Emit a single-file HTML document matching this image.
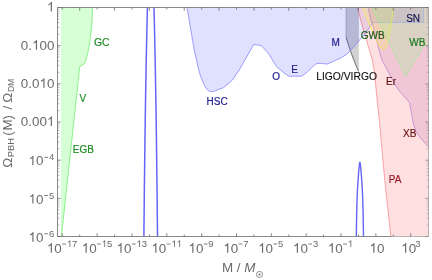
<!DOCTYPE html>
<html><head><meta charset="utf-8"><title>PBH constraints</title>
<style>
html,body{margin:0;padding:0;background:#fff;}
body{width:432px;height:280px;overflow:hidden;font-family:"Liberation Sans",sans-serif;}
svg{display:block;will-change:transform;}
text{font-family:"Liberation Sans",sans-serif;}
.tk{fill:#6a6a6a;font-size:13.4px;}
.tk.sup{font-size:9.5px;}
.lb{font-size:10px;}
</style></head><body>
<svg width="432" height="280" viewBox="0 0 432 280">
<defs><clipPath id="cp"><rect x="57.5" y="7.5" width="371.0" height="229.0"/></clipPath></defs>
<rect width="432" height="280" fill="#fff"/>
<g clip-path="url(#cp)">
<polygon points="60.90,7.50 92.60,7.50 91.80,25.00 90.70,35.00 89.40,45.00 87.70,53.00 86.00,60.00 85.10,62.30 84.00,63.90 82.10,65.20 79.80,66.40 61.40,236.50 60.90,236.50" fill="#d6ffd6"/>
<polyline points="92.60,7.50 91.80,25.00 90.70,35.00 89.40,45.00 87.70,53.00 86.00,60.00 85.10,62.30 84.00,63.90 82.10,65.20 79.80,66.40 61.40,236.50" fill="none" stroke="#74ee74" stroke-width="0.8"/>
<polygon points="357.50,7.50 362.30,26.00 367.30,43.00 372.30,60.00 374.40,72.00 375.60,84.00 376.30,91.00 377.30,101.00 379.75,125.00 382.50,155.00 385.50,188.00 391.00,237.00 430.50,236.50 430.50,7.50" fill="#ff0000" fill-opacity="0.12"/>
<polyline points="357.50,7.50 362.30,26.00 367.30,43.00 372.30,60.00 374.40,72.00 375.60,84.00 376.30,91.00 377.30,101.00 379.75,125.00 382.50,155.00 385.50,188.00 391.00,237.00" fill="none" stroke="#fa8088" stroke-width="0.7"/>
<polygon points="368.00,7.50 371.25,21.25 372.75,25.00 380.30,55.00 381.90,60.00 390.00,75.00 395.20,85.00 398.60,90.00 409.50,102.60 413.70,125.00 416.20,132.00 421.00,138.50 428.50,147.00 430.50,147.00 430.50,7.50" fill="#800080" fill-opacity="0.11"/>
<polyline points="368.00,7.50 371.25,21.25 372.75,25.00 380.30,55.00 381.90,60.00 390.00,75.00 395.20,85.00 398.60,90.00 409.50,102.60 413.70,125.00 416.20,132.00 421.00,138.50 428.50,147.00" fill="none" stroke="#b97cd2" stroke-width="0.7"/>
<polygon points="346.10,7.50 346.10,37.30 348.50,45.00 351.20,53.00 354.60,62.00 358.50,71.40 358.90,71.40 358.90,7.50" fill="#000" fill-opacity="0.18"/>
<polyline points="346.1,7.5 346.1,37.3" fill="none" stroke="#8c8ca4" stroke-width="0.6"/>
<polyline points="346.10,37.30 348.50,45.00 351.20,53.00 354.60,62.00 358.50,71.40" fill="none" stroke="#555" stroke-width="0.8"/>
<polygon points="187.00,7.50 194.25,50.00 198.75,70.00 200.50,76.00 204.25,85.00 207.00,89.50 210.00,91.80 214.00,91.30 223.75,87.50 232.50,80.00 240.00,68.75 250.50,50.00 253.75,44.50 261.25,45.50 268.75,53.75 276.50,66.60 284.00,72.90 289.00,76.20 301.50,76.20 307.10,72.25 314.60,64.75 316.50,63.70 320.00,63.20 327.00,64.10 337.50,59.50 341.50,57.60 347.00,54.00 353.60,47.20 359.00,40.74 359.00,7.50" fill="#0000ff" fill-opacity="0.12"/><polygon points="359.00,7.50 359.00,40.74 360.70,38.70 363.30,36.00 367.60,30.00 373.00,22.50 423.60,22.50 423.60,7.50" fill="#0000c8" fill-opacity="0.08"/>
<polyline points="187.00,7.50 194.25,50.00 198.75,70.00 200.50,76.00 204.25,85.00 207.00,89.50 210.00,91.80 214.00,91.30 223.75,87.50 232.50,80.00 240.00,68.75 250.50,50.00 253.75,44.50 261.25,45.50 268.75,53.75 276.50,66.60 284.00,72.90 289.00,76.20 301.50,76.20 307.10,72.25 314.60,64.75 316.50,63.70 320.00,63.20 327.00,64.10 337.50,59.50 341.50,57.60 347.00,54.00 353.60,47.20 360.70,38.70 363.30,36.00 367.60,30.00 373.00,22.50" fill="none" stroke="#8686fa" stroke-width="0.8" stroke-linejoin="round"/><polyline points="373.00,22.50 423.60,22.50 423.60,7.50" fill="none" stroke="#a4a4ee" stroke-width="0.7"/>
<polygon points="362.50,7.50 369.40,24.50 377.50,42.50 380.00,47.00 383.10,49.40 385.00,48.50 386.25,46.25 390.00,31.25 393.70,7.50" fill="#ffff00" fill-opacity="0.14"/>
<polyline points="362.50,7.50 369.40,24.50 377.50,42.50 380.00,47.00 383.10,49.40 385.00,48.50 386.25,46.25 390.00,31.25 393.70,7.50" fill="none" stroke="#f5ec4a" stroke-width="0.75" stroke-linejoin="round"/>
<polygon points="372.00,7.50 405.50,76.25 423.60,45.60 430.00,45.60 430.00,7.50" fill="#80ff80" fill-opacity="0.19"/>
<polyline points="372.00,7.50 405.50,76.25 423.60,45.60 430.00,45.60" fill="none" stroke="#98ee98" stroke-width="0.7"/>
<polyline points="143.85,240.00 144.35,190.00 144.95,140.00 145.45,106.00 146.05,70.00 146.65,40.00 147.40,7.50 148.30,-20.00" fill="none" stroke="#6464fa" stroke-width="1.5"/><polyline points="157.55,240.00 157.05,190.00 156.45,140.00 155.95,106.00 155.35,70.00 154.75,40.00 154.00,7.50 153.10,-20.00" fill="none" stroke="#6464fa" stroke-width="1.5"/>
<polyline points="356.30,237.00 356.65,215.00 357.05,200.00 357.45,190.00 357.95,182.00 358.45,175.00 358.85,170.00 359.15,167.00 359.45,164.50 359.62,163.30 359.90,162.30 360.18,163.30 360.35,164.50 360.65,167.00 360.95,170.00 361.35,175.00 361.85,182.00 362.35,190.00 362.75,200.00 363.15,215.00 363.50,237.00" fill="none" stroke="#6464fa" stroke-width="1.4" stroke-linejoin="round"/>
</g>
<g stroke="#6c6c6c" stroke-width="0.8" fill="none">
<path d="M57.5 236.5V7.5H428.5"/>
<path d="M57.5 236.5H391"/>
<path d="M391 236.5H428.5V7.5" stroke-opacity="0.6"/>
<path d="M62.30 236.50v-3.30M62.30 7.50v2.00"/>
<path d="M79.72 236.50v-2.00M79.72 7.50v3.30"/>
<path d="M97.14 236.50v-3.30M97.14 7.50v2.00"/>
<path d="M114.56 236.50v-2.00M114.56 7.50v3.30"/>
<path d="M131.98 236.50v-3.30M131.98 7.50v2.00"/>
<path d="M149.40 236.50v-2.00M149.40 7.50v3.30"/>
<path d="M166.82 236.50v-3.30M166.82 7.50v2.00"/>
<path d="M184.24 236.50v-2.00M184.24 7.50v3.30"/>
<path d="M201.66 236.50v-3.30M201.66 7.50v2.00"/>
<path d="M219.08 236.50v-2.00M219.08 7.50v3.30"/>
<path d="M236.50 236.50v-3.30M236.50 7.50v2.00"/>
<path d="M253.92 236.50v-2.00M253.92 7.50v3.30"/>
<path d="M271.34 236.50v-3.30M271.34 7.50v2.00"/>
<path d="M288.76 236.50v-2.00M288.76 7.50v3.30"/>
<path d="M306.18 236.50v-3.30M306.18 7.50v2.00"/>
<path d="M323.60 236.50v-2.00M323.60 7.50v3.30"/>
<path d="M341.02 236.50v-3.30M341.02 7.50v2.00"/>
<path d="M358.44 236.50v-2.00M358.44 7.50v3.30"/>
<path d="M375.86 236.50v-3.30M375.86 7.50v2.00"/>
<path d="M393.28 236.50v-2.00M393.28 7.50v3.30"/>
<path d="M410.70 236.50v-3.30M410.70 7.50v2.00"/>
<path d="M57.50 7.50h3.2"/><path d="M428.50 7.50h-3.2" stroke-opacity="0.75"/>
<path d="M57.50 34.18h1.9" stroke-width="0.5"/><path d="M428.50 34.18h-1.9" stroke-width="0.5" stroke-opacity="0.75"/>
<path d="M57.50 27.46h1.9" stroke-width="0.5"/><path d="M428.50 27.46h-1.9" stroke-width="0.5" stroke-opacity="0.75"/>
<path d="M57.50 22.69h1.9" stroke-width="0.5"/><path d="M428.50 22.69h-1.9" stroke-width="0.5" stroke-opacity="0.75"/>
<path d="M57.50 18.99h1.9" stroke-width="0.5"/><path d="M428.50 18.99h-1.9" stroke-width="0.5" stroke-opacity="0.75"/>
<path d="M57.50 15.97h1.9" stroke-width="0.5"/><path d="M428.50 15.97h-1.9" stroke-width="0.5" stroke-opacity="0.75"/>
<path d="M57.50 13.41h1.9" stroke-width="0.5"/><path d="M428.50 13.41h-1.9" stroke-width="0.5" stroke-opacity="0.75"/>
<path d="M57.50 11.20h1.9" stroke-width="0.5"/><path d="M428.50 11.20h-1.9" stroke-width="0.5" stroke-opacity="0.75"/>
<path d="M57.50 9.25h1.9" stroke-width="0.5"/><path d="M428.50 9.25h-1.9" stroke-width="0.5" stroke-opacity="0.75"/>
<path d="M57.50 45.67h3.2"/><path d="M428.50 45.67h-3.2" stroke-opacity="0.75"/>
<path d="M57.50 72.34h1.9" stroke-width="0.5"/><path d="M428.50 72.34h-1.9" stroke-width="0.5" stroke-opacity="0.75"/>
<path d="M57.50 65.62h1.9" stroke-width="0.5"/><path d="M428.50 65.62h-1.9" stroke-width="0.5" stroke-opacity="0.75"/>
<path d="M57.50 60.85h1.9" stroke-width="0.5"/><path d="M428.50 60.85h-1.9" stroke-width="0.5" stroke-opacity="0.75"/>
<path d="M57.50 57.16h1.9" stroke-width="0.5"/><path d="M428.50 57.16h-1.9" stroke-width="0.5" stroke-opacity="0.75"/>
<path d="M57.50 54.13h1.9" stroke-width="0.5"/><path d="M428.50 54.13h-1.9" stroke-width="0.5" stroke-opacity="0.75"/>
<path d="M57.50 51.58h1.9" stroke-width="0.5"/><path d="M428.50 51.58h-1.9" stroke-width="0.5" stroke-opacity="0.75"/>
<path d="M57.50 49.37h1.9" stroke-width="0.5"/><path d="M428.50 49.37h-1.9" stroke-width="0.5" stroke-opacity="0.75"/>
<path d="M57.50 47.41h1.9" stroke-width="0.5"/><path d="M428.50 47.41h-1.9" stroke-width="0.5" stroke-opacity="0.75"/>
<path d="M57.50 83.83h3.2"/><path d="M428.50 83.83h-3.2" stroke-opacity="0.75"/>
<path d="M57.50 110.51h1.9" stroke-width="0.5"/><path d="M428.50 110.51h-1.9" stroke-width="0.5" stroke-opacity="0.75"/>
<path d="M57.50 103.79h1.9" stroke-width="0.5"/><path d="M428.50 103.79h-1.9" stroke-width="0.5" stroke-opacity="0.75"/>
<path d="M57.50 99.02h1.9" stroke-width="0.5"/><path d="M428.50 99.02h-1.9" stroke-width="0.5" stroke-opacity="0.75"/>
<path d="M57.50 95.32h1.9" stroke-width="0.5"/><path d="M428.50 95.32h-1.9" stroke-width="0.5" stroke-opacity="0.75"/>
<path d="M57.50 92.30h1.9" stroke-width="0.5"/><path d="M428.50 92.30h-1.9" stroke-width="0.5" stroke-opacity="0.75"/>
<path d="M57.50 89.75h1.9" stroke-width="0.5"/><path d="M428.50 89.75h-1.9" stroke-width="0.5" stroke-opacity="0.75"/>
<path d="M57.50 87.53h1.9" stroke-width="0.5"/><path d="M428.50 87.53h-1.9" stroke-width="0.5" stroke-opacity="0.75"/>
<path d="M57.50 85.58h1.9" stroke-width="0.5"/><path d="M428.50 85.58h-1.9" stroke-width="0.5" stroke-opacity="0.75"/>
<path d="M57.50 122.00h3.2"/><path d="M428.50 122.00h-3.2" stroke-opacity="0.75"/>
<path d="M57.50 148.68h1.9" stroke-width="0.5"/><path d="M428.50 148.68h-1.9" stroke-width="0.5" stroke-opacity="0.75"/>
<path d="M57.50 141.96h1.9" stroke-width="0.5"/><path d="M428.50 141.96h-1.9" stroke-width="0.5" stroke-opacity="0.75"/>
<path d="M57.50 137.19h1.9" stroke-width="0.5"/><path d="M428.50 137.19h-1.9" stroke-width="0.5" stroke-opacity="0.75"/>
<path d="M57.50 133.49h1.9" stroke-width="0.5"/><path d="M428.50 133.49h-1.9" stroke-width="0.5" stroke-opacity="0.75"/>
<path d="M57.50 130.47h1.9" stroke-width="0.5"/><path d="M428.50 130.47h-1.9" stroke-width="0.5" stroke-opacity="0.75"/>
<path d="M57.50 127.91h1.9" stroke-width="0.5"/><path d="M428.50 127.91h-1.9" stroke-width="0.5" stroke-opacity="0.75"/>
<path d="M57.50 125.70h1.9" stroke-width="0.5"/><path d="M428.50 125.70h-1.9" stroke-width="0.5" stroke-opacity="0.75"/>
<path d="M57.50 123.75h1.9" stroke-width="0.5"/><path d="M428.50 123.75h-1.9" stroke-width="0.5" stroke-opacity="0.75"/>
<path d="M57.50 160.17h3.2"/><path d="M428.50 160.17h-3.2" stroke-opacity="0.75"/>
<path d="M57.50 186.84h1.9" stroke-width="0.5"/><path d="M428.50 186.84h-1.9" stroke-width="0.5" stroke-opacity="0.75"/>
<path d="M57.50 180.12h1.9" stroke-width="0.5"/><path d="M428.50 180.12h-1.9" stroke-width="0.5" stroke-opacity="0.75"/>
<path d="M57.50 175.35h1.9" stroke-width="0.5"/><path d="M428.50 175.35h-1.9" stroke-width="0.5" stroke-opacity="0.75"/>
<path d="M57.50 171.66h1.9" stroke-width="0.5"/><path d="M428.50 171.66h-1.9" stroke-width="0.5" stroke-opacity="0.75"/>
<path d="M57.50 168.63h1.9" stroke-width="0.5"/><path d="M428.50 168.63h-1.9" stroke-width="0.5" stroke-opacity="0.75"/>
<path d="M57.50 166.08h1.9" stroke-width="0.5"/><path d="M428.50 166.08h-1.9" stroke-width="0.5" stroke-opacity="0.75"/>
<path d="M57.50 163.87h1.9" stroke-width="0.5"/><path d="M428.50 163.87h-1.9" stroke-width="0.5" stroke-opacity="0.75"/>
<path d="M57.50 161.91h1.9" stroke-width="0.5"/><path d="M428.50 161.91h-1.9" stroke-width="0.5" stroke-opacity="0.75"/>
<path d="M57.50 198.33h3.2"/><path d="M428.50 198.33h-3.2" stroke-opacity="0.75"/>
<path d="M57.50 225.01h1.9" stroke-width="0.5"/><path d="M428.50 225.01h-1.9" stroke-width="0.5" stroke-opacity="0.75"/>
<path d="M57.50 218.29h1.9" stroke-width="0.5"/><path d="M428.50 218.29h-1.9" stroke-width="0.5" stroke-opacity="0.75"/>
<path d="M57.50 213.52h1.9" stroke-width="0.5"/><path d="M428.50 213.52h-1.9" stroke-width="0.5" stroke-opacity="0.75"/>
<path d="M57.50 209.82h1.9" stroke-width="0.5"/><path d="M428.50 209.82h-1.9" stroke-width="0.5" stroke-opacity="0.75"/>
<path d="M57.50 206.80h1.9" stroke-width="0.5"/><path d="M428.50 206.80h-1.9" stroke-width="0.5" stroke-opacity="0.75"/>
<path d="M57.50 204.25h1.9" stroke-width="0.5"/><path d="M428.50 204.25h-1.9" stroke-width="0.5" stroke-opacity="0.75"/>
<path d="M57.50 202.03h1.9" stroke-width="0.5"/><path d="M428.50 202.03h-1.9" stroke-width="0.5" stroke-opacity="0.75"/>
<path d="M57.50 200.08h1.9" stroke-width="0.5"/><path d="M428.50 200.08h-1.9" stroke-width="0.5" stroke-opacity="0.75"/>
<path d="M57.50 236.50h3.2"/><path d="M428.50 236.50h-3.2" stroke-opacity="0.75"/>
</g>
<path d="M763 0H583V1147Q518 1085 412.5 1023Q307 961 223 930V1104Q374 1175 487 1276Q600 1377 647 1472H763Z" fill="#6a6a6a" transform="translate(46.95,11.50) scale(0.00654,-0.00654)"/>
<text class="tk" x="20.87" y="49.67">0.</text>
<path d="M763 0H583V1147Q518 1085 412.5 1023Q307 961 223 930V1104Q374 1175 487 1276Q600 1377 647 1472H763Z" fill="#6a6a6a" transform="translate(32.05,49.67) scale(0.00654,-0.00654)"/>
<text class="tk" x="39.50" y="49.67">00</text>
<text class="tk" x="20.87" y="87.83">0.0</text>
<path d="M763 0H583V1147Q518 1085 412.5 1023Q307 961 223 930V1104Q374 1175 487 1276Q600 1377 647 1472H763Z" fill="#6a6a6a" transform="translate(39.50,87.83) scale(0.00654,-0.00654)"/>
<text class="tk" x="46.95" y="87.83">0</text>
<text class="tk" x="20.87" y="126.00">0.00</text>
<path d="M763 0H583V1147Q518 1085 412.5 1023Q307 961 223 930V1104Q374 1175 487 1276Q600 1377 647 1472H763Z" fill="#6a6a6a" transform="translate(46.95,126.00) scale(0.00654,-0.00654)"/>
<path d="M763 0H583V1147Q518 1085 412.5 1023Q307 961 223 930V1104Q374 1175 487 1276Q600 1377 647 1472H763Z" fill="#6a6a6a" transform="translate(28.50,165.37) scale(0.00654,-0.00654)"/>
<text class="tk" x="35.95" y="165.37">0</text>
<path d="M44.30 157.37h3.75" stroke="#6a6a6a" stroke-width="0.85" fill="none"/>
<text class="tk sup" x="48.90" y="160.37">4</text>
<path d="M763 0H583V1147Q518 1085 412.5 1023Q307 961 223 930V1104Q374 1175 487 1276Q600 1377 647 1472H763Z" fill="#6a6a6a" transform="translate(28.50,203.53) scale(0.00654,-0.00654)"/>
<text class="tk" x="35.95" y="203.53">0</text>
<path d="M44.30 195.53h3.75" stroke="#6a6a6a" stroke-width="0.85" fill="none"/>
<text class="tk sup" x="48.90" y="198.53">5</text>
<path d="M763 0H583V1147Q518 1085 412.5 1023Q307 961 223 930V1104Q374 1175 487 1276Q600 1377 647 1472H763Z" fill="#6a6a6a" transform="translate(28.50,241.70) scale(0.00654,-0.00654)"/>
<text class="tk" x="35.95" y="241.70">0</text>
<path d="M44.30 233.70h3.75" stroke="#6a6a6a" stroke-width="0.85" fill="none"/>
<text class="tk sup" x="48.90" y="236.70">6</text>
<path d="M763 0H583V1147Q518 1085 412.5 1023Q307 961 223 930V1104Q374 1175 487 1276Q600 1377 647 1472H763Z" fill="#6a6a6a" transform="translate(46.90,252.70) scale(0.00654,-0.00654)"/>
<text class="tk" x="54.35" y="252.70">0</text>
<path d="M62.20 244.00h3.75" stroke="#6a6a6a" stroke-width="0.85" fill="none"/>
<path d="M763 0H583V1147Q518 1085 412.5 1023Q307 961 223 930V1104Q374 1175 487 1276Q600 1377 647 1472H763Z" fill="#6a6a6a" transform="translate(66.80,247.00) scale(0.00464,-0.00464)"/>
<text class="tk sup" x="72.08" y="247.00">7</text>
<path d="M763 0H583V1147Q518 1085 412.5 1023Q307 961 223 930V1104Q374 1175 487 1276Q600 1377 647 1472H763Z" fill="#6a6a6a" transform="translate(81.74,252.70) scale(0.00654,-0.00654)"/>
<text class="tk" x="89.19" y="252.70">0</text>
<path d="M97.04 244.00h3.75" stroke="#6a6a6a" stroke-width="0.85" fill="none"/>
<path d="M763 0H583V1147Q518 1085 412.5 1023Q307 961 223 930V1104Q374 1175 487 1276Q600 1377 647 1472H763Z" fill="#6a6a6a" transform="translate(101.64,247.00) scale(0.00464,-0.00464)"/>
<text class="tk sup" x="106.92" y="247.00">5</text>
<path d="M763 0H583V1147Q518 1085 412.5 1023Q307 961 223 930V1104Q374 1175 487 1276Q600 1377 647 1472H763Z" fill="#6a6a6a" transform="translate(116.58,252.70) scale(0.00654,-0.00654)"/>
<text class="tk" x="124.03" y="252.70">0</text>
<path d="M131.88 244.00h3.75" stroke="#6a6a6a" stroke-width="0.85" fill="none"/>
<path d="M763 0H583V1147Q518 1085 412.5 1023Q307 961 223 930V1104Q374 1175 487 1276Q600 1377 647 1472H763Z" fill="#6a6a6a" transform="translate(136.48,247.00) scale(0.00464,-0.00464)"/>
<text class="tk sup" x="141.76" y="247.00">3</text>
<path d="M763 0H583V1147Q518 1085 412.5 1023Q307 961 223 930V1104Q374 1175 487 1276Q600 1377 647 1472H763Z" fill="#6a6a6a" transform="translate(151.42,252.70) scale(0.00654,-0.00654)"/>
<text class="tk" x="158.87" y="252.70">0</text>
<path d="M166.72 244.00h3.75" stroke="#6a6a6a" stroke-width="0.85" fill="none"/>
<path d="M763 0H583V1147Q518 1085 412.5 1023Q307 961 223 930V1104Q374 1175 487 1276Q600 1377 647 1472H763Z" fill="#6a6a6a" transform="translate(171.32,247.00) scale(0.00464,-0.00464)"/>
<path d="M763 0H583V1147Q518 1085 412.5 1023Q307 961 223 930V1104Q374 1175 487 1276Q600 1377 647 1472H763Z" fill="#6a6a6a" transform="translate(176.60,247.00) scale(0.00464,-0.00464)"/>
<path d="M763 0H583V1147Q518 1085 412.5 1023Q307 961 223 930V1104Q374 1175 487 1276Q600 1377 647 1472H763Z" fill="#6a6a6a" transform="translate(188.46,252.70) scale(0.00654,-0.00654)"/>
<text class="tk" x="195.91" y="252.70">0</text>
<path d="M203.76 244.00h3.75" stroke="#6a6a6a" stroke-width="0.85" fill="none"/>
<text class="tk sup" x="208.36" y="247.00">9</text>
<path d="M763 0H583V1147Q518 1085 412.5 1023Q307 961 223 930V1104Q374 1175 487 1276Q600 1377 647 1472H763Z" fill="#6a6a6a" transform="translate(223.30,252.70) scale(0.00654,-0.00654)"/>
<text class="tk" x="230.75" y="252.70">0</text>
<path d="M238.60 244.00h3.75" stroke="#6a6a6a" stroke-width="0.85" fill="none"/>
<text class="tk sup" x="243.20" y="247.00">7</text>
<path d="M763 0H583V1147Q518 1085 412.5 1023Q307 961 223 930V1104Q374 1175 487 1276Q600 1377 647 1472H763Z" fill="#6a6a6a" transform="translate(258.14,252.70) scale(0.00654,-0.00654)"/>
<text class="tk" x="265.59" y="252.70">0</text>
<path d="M273.44 244.00h3.75" stroke="#6a6a6a" stroke-width="0.85" fill="none"/>
<text class="tk sup" x="278.04" y="247.00">5</text>
<path d="M763 0H583V1147Q518 1085 412.5 1023Q307 961 223 930V1104Q374 1175 487 1276Q600 1377 647 1472H763Z" fill="#6a6a6a" transform="translate(292.98,252.70) scale(0.00654,-0.00654)"/>
<text class="tk" x="300.43" y="252.70">0</text>
<path d="M308.28 244.00h3.75" stroke="#6a6a6a" stroke-width="0.85" fill="none"/>
<text class="tk sup" x="312.88" y="247.00">3</text>
<path d="M763 0H583V1147Q518 1085 412.5 1023Q307 961 223 930V1104Q374 1175 487 1276Q600 1377 647 1472H763Z" fill="#6a6a6a" transform="translate(327.82,252.70) scale(0.00654,-0.00654)"/>
<text class="tk" x="335.27" y="252.70">0</text>
<path d="M343.12 244.00h3.75" stroke="#6a6a6a" stroke-width="0.85" fill="none"/>
<path d="M763 0H583V1147Q518 1085 412.5 1023Q307 961 223 930V1104Q374 1175 487 1276Q600 1377 647 1472H763Z" fill="#6a6a6a" transform="translate(347.72,247.00) scale(0.00464,-0.00464)"/>
<path d="M763 0H583V1147Q518 1085 412.5 1023Q307 961 223 930V1104Q374 1175 487 1276Q600 1377 647 1472H763Z" fill="#6a6a6a" transform="translate(369.46,252.70) scale(0.00654,-0.00654)"/>
<text class="tk" x="376.91" y="252.70">0</text>
<path d="M763 0H583V1147Q518 1085 412.5 1023Q307 961 223 930V1104Q374 1175 487 1276Q600 1377 647 1472H763Z" fill="#6a6a6a" transform="translate(401.20,252.70) scale(0.00654,-0.00654)"/>
<text class="tk" x="408.65" y="252.70">0</text>
<text class="tk sup" x="415.20" y="247.00">3</text>
<text class="tk" x="221.9" y="272.0">M / <tspan font-style="italic">M</tspan></text>
<circle cx="259.5" cy="274.4" r="3.05" fill="none" stroke="#6a6a6a" stroke-width="0.75"/><circle cx="259.5" cy="274.4" r="1.0" fill="#6a6a6a"/>
<g transform="translate(11.9,167.5) rotate(-90)" class="tk"><text x="-0.3" y="0">Ω</text><text x="10.2" y="1.7" font-size="9.4">PBH</text><text x="31.7" y="0">(</text><text x="36.9" y="0">M</text><text x="47.9" y="0">)</text><text x="58" y="0">/</text><text x="64.7" y="0">Ω</text><text x="75.4" y="1.7" font-size="8.6">DM</text></g>
<text x="93.90" y="45.50" fill="#228b22" stroke="#228b22" stroke-width="0.18" font-size="10.45px">GC</text>
<text x="79.40" y="102.30" fill="#228b22" stroke="#228b22" stroke-width="0.18" font-size="10px">V</text>
<text x="72.80" y="152.90" fill="#228b22" stroke="#228b22" stroke-width="0.18" font-size="10px">EGB</text>
<text x="206.60" y="104.90" fill="#1c1c8c" stroke="#1c1c8c" stroke-width="0.18" font-size="10px">HSC</text>
<text x="272.30" y="80.10" fill="#1c1c8c" stroke="#1c1c8c" stroke-width="0.18" font-size="10px">O</text>
<text x="291.30" y="73.00" fill="#1c1c8c" stroke="#1c1c8c" stroke-width="0.18" font-size="10px">E</text>
<text x="331.50" y="46.20" fill="#1c1c8c" stroke="#1c1c8c" stroke-width="0.18" font-size="10px">M</text>
<text x="316.20" y="80.10" fill="#111111" stroke="#111111" stroke-width="0.12" font-size="10.32px">LIGO/VIRGO</text>
<text x="360.80" y="38.50" fill="#17591a" stroke="#17591a" stroke-width="0.18" font-size="10px">GWB</text>
<text x="406.20" y="22.30" fill="#141450" stroke="#141450" stroke-width="0.18" font-size="10px">SN</text>
<text x="409.20" y="45.60" fill="#1a7a1c" stroke="#1a7a1c" stroke-width="0.18" font-size="10px">WB</text>
<text x="386.10" y="84.80" fill="#661416" stroke="#661416" stroke-width="0.18" font-size="10px">Er</text>
<text x="403.00" y="137.10" fill="#661416" stroke="#661416" stroke-width="0.18" font-size="10px">XB</text>
<text x="388.80" y="183.00" fill="#9a1a28" stroke="#9a1a28" stroke-width="0.18" font-size="10px">PA</text>
</svg></body></html>
